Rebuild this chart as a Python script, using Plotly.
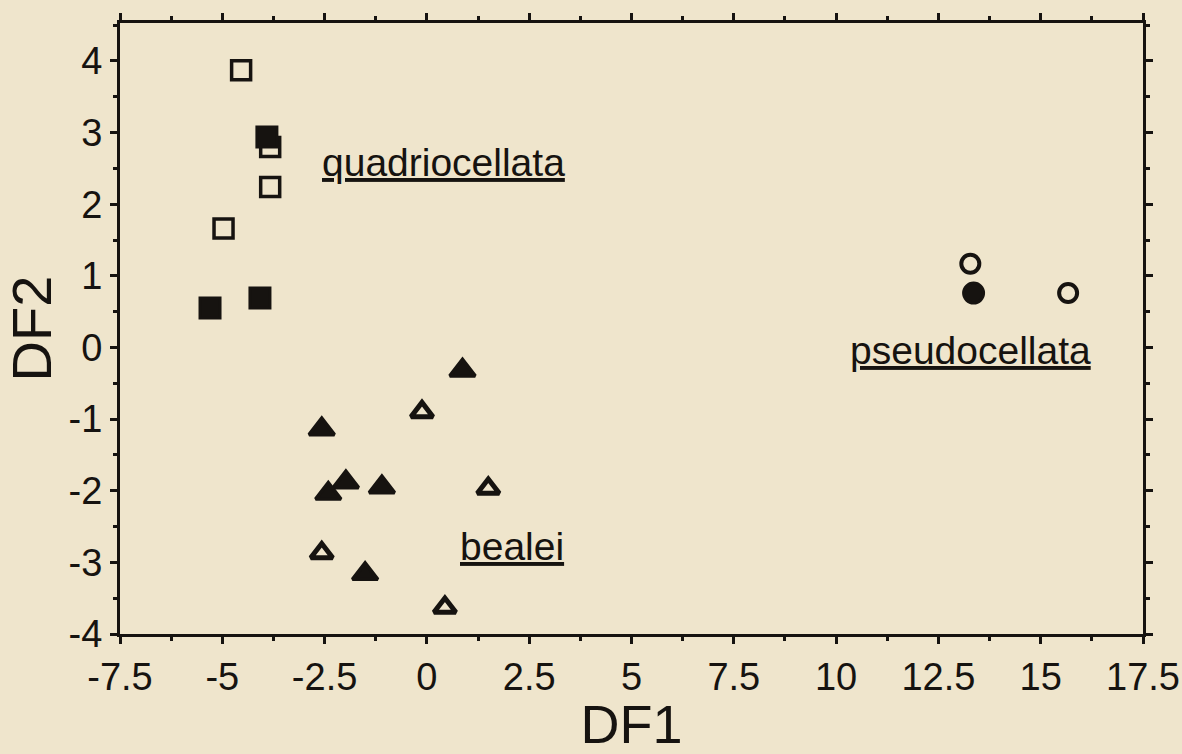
import plotly.graph_objects as go

# quadriocellata
quad_open_x = [-4.54, -4.97, -3.83, -3.83]
quad_open_y = [3.87, 1.66, 2.24, 2.80]
quad_fill_x = [-3.91, -4.08, -5.30]
quad_fill_y = [2.94, 0.69, 0.55]

# bealei
beal_open_x = [-0.12, 1.50, -2.57, 0.44]
beal_open_y = [-0.90, -1.97, -2.87, -3.63]
beal_fill_x = [0.87, -2.57, -1.98, -1.10, -2.41, -1.51]
beal_fill_y = [-0.32, -1.14, -1.88, -1.95, -2.04, -3.16]

# pseudocellata
pseu_open_x = [13.28, 15.67]
pseu_open_y = [1.17, 0.76]
pseu_fill_x = [13.36]
pseu_fill_y = [0.76]

labels = ["quadriocellata", "bealei", "pseudocellata"]
label_x = [0.41, 2.08, 13.28]
label_y = [2.58, -2.78, -0.04]

x_ticks = [-7.5, -5, -2.5, 0, 2.5, 5, 7.5, 10, 12.5, 15, 17.5]
x_ticktext = ["-7.5", "-5", "-2.5", "0", "2.5", "5", "7.5", "10", "12.5", "15", "17.5"]
y_ticks = [-4, -3, -2, -1, 0, 1, 2, 3, 4]
y_ticktext = ["-4", "-3", "-2", "-1", "0", "1", "2", "3", "4"]

BG = "#efe5cc"
INK = "#161310"
FONT = "Liberation Sans, Arial, sans-serif"

fig = go.Figure()

def add(x, y, symbol, filled, size, lw):
    fig.add_trace(go.Scatter(
        x=x, y=y, mode="markers", showlegend=False, hoverinfo="skip",
        marker=dict(symbol=symbol, size=size,
                    color=INK if filled else BG,
                    line=dict(color=INK, width=lw))))

add(quad_open_x, quad_open_y, "square", False, 19, 3.5)
add(quad_fill_x, quad_fill_y, "square", True, 20, 3)
add(beal_open_x, beal_open_y, "triangle-up", False, 19, 5)
add(beal_fill_x, beal_fill_y, "triangle-up", True, 22, 3.5)
add(pseu_open_x, pseu_open_y, "circle", False, 18, 4)
add(pseu_fill_x, pseu_fill_y, "circle", True, 20, 3)

for t, x, y in zip(labels, label_x, label_y):
    fig.add_annotation(x=x, y=y, text="<u>" + t + "</u>", showarrow=False,
                       font=dict(family=FONT, size=39, color=INK),
                       xanchor="center", yanchor="middle")

axis_common = dict(
    showline=True, linecolor=INK, linewidth=3, mirror="allticks",
    ticks="outside", ticklen=7, tickwidth=3, tickcolor=INK,
    showgrid=False, zeroline=False, automargin=False,
    tickfont=dict(family=FONT, size=38, color=INK),
)

fig.update_xaxes(
    range=[-7.5, 17.5], tickvals=x_ticks, ticktext=x_ticktext,
    minor=dict(dtick=1.25, tick0=-7.5, ticks="outside", ticklen=4, tickwidth=3, tickcolor=INK, showgrid=False),
    title=dict(text="DF1", font=dict(family=FONT, size=54, color=INK), standoff=2),
    **axis_common)
fig.update_yaxes(
    range=[-4, 4.53], tickvals=y_ticks, ticktext=y_ticktext,
    minor=dict(dtick=0.5, tick0=-4, ticks="outside", ticklen=4, tickwidth=3, tickcolor=INK, showgrid=False),
    title=dict(text="DF2", font=dict(family=FONT, size=56, color=INK), standoff=6),
    **axis_common)

fig.update_layout(
    width=1182, height=754,
    margin=dict(l=120, r=39, t=23, b=120),
    paper_bgcolor=BG, plot_bgcolor=BG,
    font=dict(family=FONT, color=INK),
)

fig.write_html("out.html", config={"displayModeBar": False},
               post_script="document.body.style.margin='0';document.body.style.background='%s';" % BG)
